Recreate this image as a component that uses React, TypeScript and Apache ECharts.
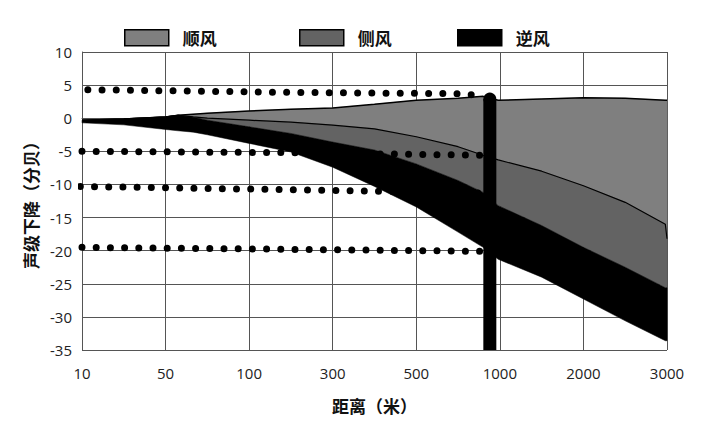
import React, { useEffect, useRef } from "react";
import * as echarts from "echarts";

// distance categories, evenly spaced on the x axis (index 0..7)
const distLabels = ["10", "50", "100", "300", "500", "1000", "2000", "3000"];

// x positions (category index) where the band boundaries are sampled
const pos = [0, 0.5, 1, 1.15, 1.33, 1.5, 2, 2.5, 3, 3.5, 4, 4.5, 4.8, 4.98, 5.5, 6, 6.5, 6.98, 7];

// band boundaries (dB), top to bottom
const downTop = [-0.3, -0.1, 0.2, 0.45, 0.6, 0.75, 1.1, 1.35, 1.55, 2.1, 2.7, 3.0, 3.3, 2.7, 2.9, 3.1, 3.0, 2.7, 2.7];
const crossTop = [-0.3, -0.1, 0.2, 0.45, 0.2, 0.0, -0.3, -0.6, -1.05, -1.6, -2.8, -4.3, -5.6, -6.3, -8.0, -10.2, -12.7, -16.0, -18.2];
const upTop = [-0.3, -0.1, 0.2, 0.45, 0.15, -0.3, -1.3, -2.3, -3.6, -4.8, -6.9, -9.4, -11.2, -13.2, -16.2, -19.5, -22.5, -25.6, -25.6];
const upBottom = [-0.7, -1.0, -1.7, -1.9, -2.1, -2.5, -3.8, -5.1, -7.4, -10.3, -13.4, -17.2, -19.5, -21.3, -24.0, -27.3, -30.6, -33.6, -33.6];

// dotted reference levels: [x index, dB]
const dotRow1 = [[0.07, 4.3], [2.5, 3.9], [4.5, 3.7], [4.8, 3.4]];
const dotRow2 = [[0, -5.0], [2.5, -5.2], [4.8, -5.6]];
const dotRow3 = [[-0.02, -10.3], [2.5, -10.8], [4.8, -11.3]];
const dotRow4 = [[0, -19.5], [2.5, -19.8], [4.8, -20.1]];

// vertical barrier marker: top and foot
const barrierX = 4.88;
const barrierY = [2.9, -35];

const seriesNames = ["顺风", "侧风", "逆风"];
const bandColors = ["#7f7f7f", "#636363", "#000000"];

const FONT_CJK = "'Noto Sans CJK SC', 'Noto Sans', sans-serif";
const FONT_NUM = "'Open Sans', 'Noto Sans', sans-serif";

export default function App() {
  const ref = useRef<HTMLDivElement>(null);

  useEffect(() => {
    if (!ref.current) return;
    const chart = echarts.init(ref.current, undefined, { renderer: "svg" });

    // filled band between two boundary arrays
    const band = (name: string, top: number[], bottom: number[], color: string, z: number) => ({
      type: "custom",
      name,
      data: [[0]],
      silent: true,
      z,
      itemStyle: { color },
      renderItem: (_p: any, api: any) => {
        const upper = pos.map((x, i) => api.coord([x, top[i]]));
        const lower = pos.map((x, i) => api.coord([x, bottom[i]])).reverse();
        return {
          type: "polygon",
          shape: { points: upper.concat(lower) },
          style: { fill: color, stroke: color, lineWidth: 0.5 },
        };
      },
    });

    const edge = (ys: number[], width: number) => ({
      type: "line",
      data: pos.map((x, i) => [x, ys[i]]),
      symbol: "none",
      silent: true,
      z: 5,
      lineStyle: { color: "#000", width },
    });

    const dotted = (data: number[][]) => ({
      type: "line",
      data,
      symbol: "none",
      silent: true,
      z: 6,
      lineStyle: { color: "#000", width: 7, type: [0, 14.2], cap: "round" },
    });

    const legendItem = (name: string, left: number) => ({
      data: [name],
      left,
      top: 24,
      icon: "rect",
      itemWidth: 44,
      itemHeight: 16,
      itemStyle: { borderColor: "#000", borderWidth: 1.5 },
      textStyle: {
        fontFamily: FONT_CJK,
        fontSize: 17,
        fontWeight: "bold",
        color: "#111",
        padding: [0, 0, 0, 9],
      },
    });

    chart.setOption({
      animation: false,
      backgroundColor: "#fff",
      legend: [
        legendItem(seriesNames[0], 119),
        legendItem(seriesNames[1], 294),
        legendItem(seriesNames[2], 452),
      ],
      grid: { left: 82, right: 53, top: 52, bottom: 79 },
      xAxis: {
        type: "value",
        min: 0,
        max: 7,
        interval: 1,
        name: "距离（米）",
        nameLocation: "middle",
        nameGap: 47,
        nameTextStyle: { fontFamily: FONT_CJK, fontSize: 17, fontWeight: "bold", color: "#111" },
        axisLine: { show: true, lineStyle: { color: "#555", width: 1 } },
        axisTick: { show: false },
        axisLabel: {
          margin: 15,
          fontFamily: FONT_NUM,
          fontSize: 15,
          color: "#222",
          formatter: (v: number) => distLabels[Math.round(v)] ?? "",
        },
        splitLine: { show: true, lineStyle: { color: "#555", width: 1 } },
      },
      yAxis: {
        type: "value",
        min: -35,
        max: 10,
        interval: 5,
        name: "声级下降（分贝）",
        nameLocation: "middle",
        nameGap: 40,
        nameTextStyle: { fontFamily: FONT_CJK, fontSize: 17, fontWeight: "bold", color: "#111" },
        axisLine: { show: true, lineStyle: { color: "#555", width: 1 } },
        axisTick: { show: false },
        axisLabel: { margin: 10, fontFamily: FONT_NUM, fontSize: 15, color: "#222" },
        splitLine: { show: true, lineStyle: { color: "#555", width: 1 } },
      },
      series: [
        band(seriesNames[0], downTop, crossTop, bandColors[0], 2),
        band(seriesNames[1], crossTop, upTop, bandColors[1], 2),
        band(seriesNames[2], upTop, upBottom, bandColors[2], 3),
        edge(downTop, 1.5),
        edge(crossTop, 1.2),
        dotted(dotRow1),
        dotted(dotRow2),
        dotted(dotRow3),
        dotted(dotRow4),
        {
          type: "line",
          data: [
            { value: [barrierX, barrierY[0]], symbol: "circle", symbolSize: 13 },
            { value: [barrierX, barrierY[1]], symbol: "none" },
          ],
          silent: true,
          z: 7,
          itemStyle: { color: "#000" },
          lineStyle: { color: "#000", width: 13, cap: "butt" },
        },
      ],
    });

    return () => chart.dispose();
  }, []);

  return (
    <div
      ref={ref}
      style={{ position: "fixed", left: 0, top: 0, width: 720, height: 429, background: "#fff" }}
    />
  );
}
